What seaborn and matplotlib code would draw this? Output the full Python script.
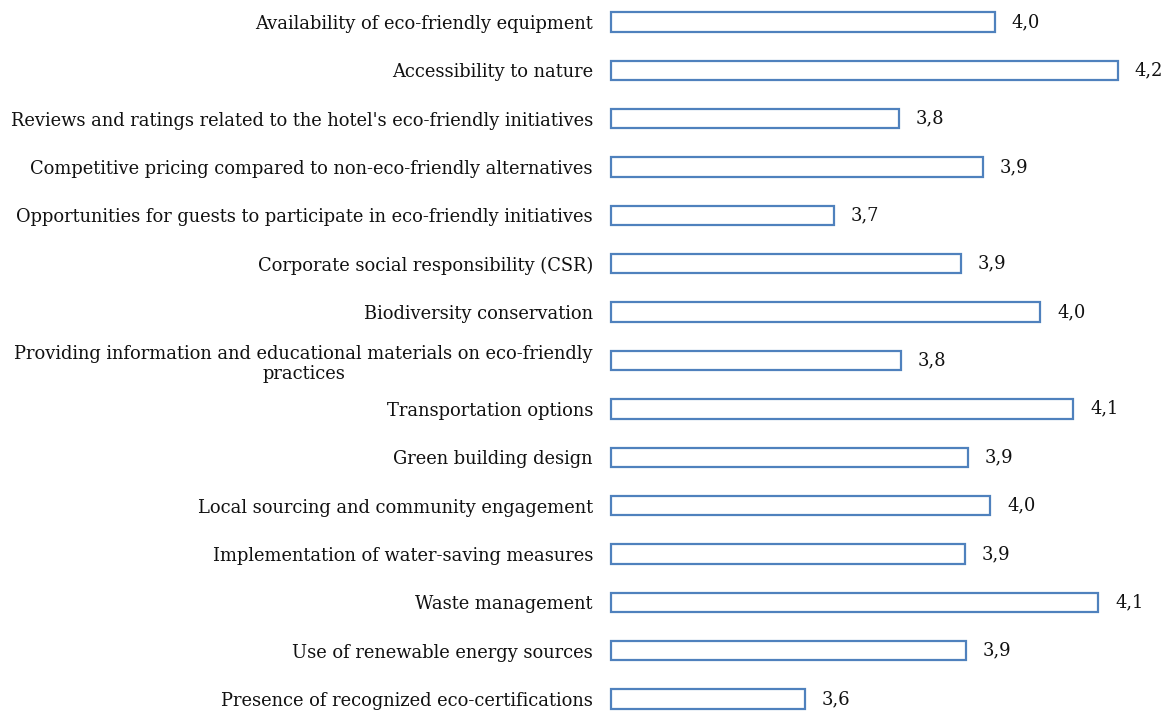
import matplotlib
matplotlib.use("Agg")
import matplotlib.pyplot as plt
import seaborn as sns
import pandas as pd

factors = [
    "Availability of eco-friendly equipment",
    "Accessibility to nature",
    "Reviews and ratings related to the hotel's eco-friendly initiatives",
    "Competitive pricing compared to non-eco-friendly alternatives",
    "Opportunities for guests to participate in eco-friendly initiatives",
    "Corporate social responsibility (CSR)",
    "Biodiversity conservation",
    "Providing information and educational materials on eco-friendly\npractices",
    "Transportation options",
    "Green building design",
    "Local sourcing and community engagement",
    "Implementation of water-saving measures",
    "Waste management",
    "Use of renewable energy sources",
    "Presence of recognized eco-certifications",
]
mean_scores = [3.962, 4.174, 3.797, 3.941, 3.684, 3.903, 4.040, 3.800,
               4.097, 3.916, 3.954, 3.910, 4.140, 3.912, 3.634]

x_min, x_max = 3.3, 4.247
edge_blue = "#4F81BD"

df = pd.DataFrame({"factor": factors, "score": mean_scores})

sns.set_theme(style="white")
plt.rcParams["font.family"] = ["DejaVu Serif"]

fig = plt.figure(figsize=(11.66, 7.11), dpi=100)
W, H = 1166, 711
step = 48.36
top_y = 22 - 0.5 * step
bot_y = 699 + 0.5 * step
ax = fig.add_axes([611 / W, (H - bot_y) / H, (1160 - 611) / W, (bot_y - top_y) / H])

sns.barplot(data=df, y="factor", x="score", orient="h", ax=ax,
            color="white", edgecolor=edge_blue, linewidth=1.6, width=0.40)
# bars start at the axis baseline rather than zero
for p in ax.patches:
    right = p.get_x() + p.get_width()
    p.set_x(x_min)
    p.set_width(right - x_min)
    p.set_clip_on(False)

ax.set_xlim(x_min, x_max)
ax.set_ylim(len(factors) - 0.5, -0.5)
for s in ax.spines.values():
    s.set_visible(False)
ax.set_xticks([])
ax.set_xlabel("")
ax.set_ylabel("")
ax.tick_params(axis="y", length=0, pad=13)
ax.set_yticks(range(len(factors)))
ax.set_yticklabels(factors, fontsize=12.9, color="#111111", ha="right",
                   multialignment="center")

for i, v in enumerate(mean_scores):
    ax.annotate(f"{v:.1f}".replace(".", ","), xy=(v, i), xytext=(17, 0),
                textcoords="offset pixels",
                va="center", ha="left", fontsize=12.9, color="#111111",
                annotation_clip=False)

fig.savefig("out.png", dpi=100, facecolor="white")
